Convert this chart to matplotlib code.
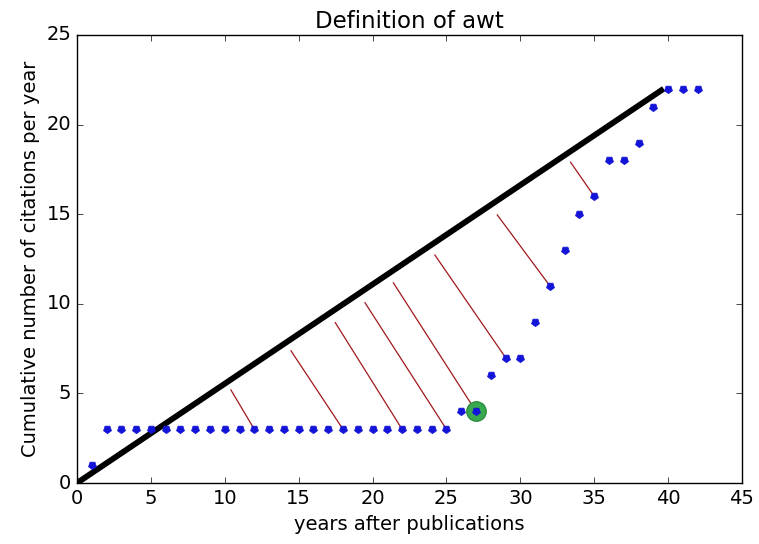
import numpy as np
import matplotlib
matplotlib.use("Agg")
import matplotlib.pyplot as plt

plt.style.use("classic")

# cumulative citations per year after publication
years = [1, 2, 3, 4, 5, 6, 7, 8, 9, 10, 11, 12, 13, 14, 15, 16, 17, 18, 19, 20,
         21, 22, 23, 24, 25, 26, 27, 28, 29, 30, 31, 32, 33, 34, 35, 36, 37, 38,
         39, 40, 41, 42]
cites = [1, 3, 3, 3, 3, 3, 3, 3, 3, 3, 3, 3, 3, 3, 3, 3, 3, 3, 3, 3,
         3, 3, 3, 3, 3, 4, 4, 6, 7, 7, 9, 11, 13, 15, 16, 18, 18, 19,
         21, 22, 22, 22]

# reference line from the origin up to the final count
line_x = [0, 39.7]
line_y = [0, 22]

# distance segments: from near the reference line down to selected points
seg_years = [12, 18, 22, 25, 27, 29, 32, 35]
seg_start_x = [10.42, 14.48, 17.48, 19.49, 21.41, 24.22, 28.44, 33.40]
seg_start_y = [5.19, 7.38, 8.95, 10.06, 11.17, 12.72, 14.96, 17.90]

# highlighted year (awt)
awt_year = 27
awt_cites = 4

fig = plt.figure(figsize=(7.59, 5.44), dpi=100, facecolor="white")
ax = fig.add_axes([0.1014, 0.1121, 0.8762, 0.8236])

ax.plot(line_x, line_y, color="black", lw=4.2, solid_capstyle="butt", zorder=2)

for yr, sx, sy in zip(seg_years, seg_start_x, seg_start_y):
    ey = cites[years.index(yr)]
    ax.plot([sx, yr], [sy, ey], color="#a0181c", lw=0.9, zorder=1)

ax.plot([awt_year], [awt_cites], "o", color="#3aa84e", mec="#2a9040",
        mew=1.0, ms=14, zorder=3)
ax.plot(years, cites, ls="none", marker=(5, 0, 180), ms=6, color="#1414d8",
        mec="#1414d8", zorder=4)

ax.set_xlim(0, 45)
ax.set_ylim(0, 25)
ax.set_xticks(np.arange(0, 46, 5))
ax.set_yticks(np.arange(0, 26, 5))
ax.tick_params(labelsize=14)
ax.set_title("Definition of awt", fontsize=16.5)
ax.set_xlabel("years after publications", fontsize=14)
ax.set_ylabel("Cumulative number of citations per year", fontsize=14)

fig.savefig("out.png", dpi=100, facecolor="white")
